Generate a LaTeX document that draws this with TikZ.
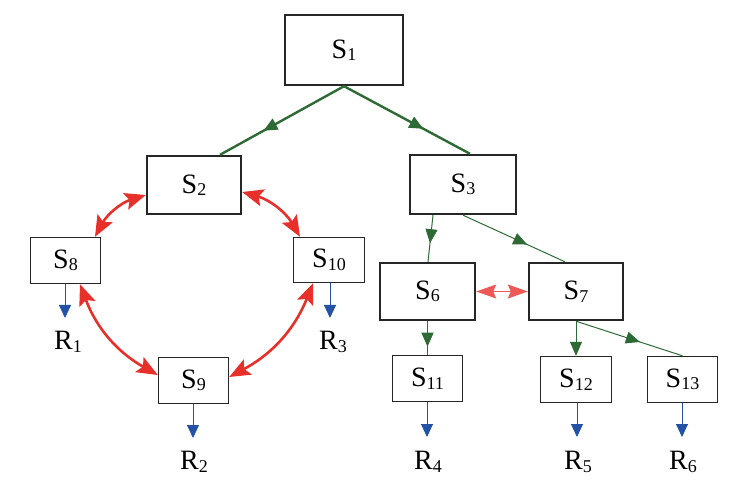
\documentclass[tikz,border=0pt]{standalone}
\usepackage{fontspec}
\setmainfont{Liberation Serif}
\usetikzlibrary{arrows.meta,decorations.markings}
\definecolor{gr}{HTML}{2D6A35}
\definecolor{rd}{HTML}{E8302A}
\definecolor{bl}{HTML}{2452A4}
\newcommand\sx[2]{#1\raisebox{-2.5pt}{\fontsize{18}{18}\selectfont #2}}
\begin{document}
\begin{tikzpicture}[x=1pt,y=-1pt,
  bigbox/.style={draw=black!85,line width=2.4pt,inner sep=0pt,font=\fontsize{28}{30}\selectfont},
  smallbox/.style={draw=black!85,line width=1.4pt,inner sep=0pt,font=\fontsize{28}{30}\selectfont},
  rlabel/.style={inner sep=0pt,font=\fontsize{28}{30}\selectfont},
  midarrow/.style={postaction={decorate},decoration={markings,
     mark=at position #1 with {\arrow{Triangle[length=14pt,width=12pt]}}}},
  thickgreen/.style={draw=gr,line width=2.4pt},
  thingreen/.style={draw=gr,line width=1pt},
  redtip/.tip={Stealth[length=21pt,width=17pt,inset=4pt]},
  redarr/.style={draw=rd,line width=2.6pt,redtip-redtip},
  bluearr/.style={draw=bl,line width=1pt,-{Triangle[length=13pt,width=12pt]}}]
\useasboundingbox (0,0) rectangle (737,481);
% boxes
\node[bigbox,minimum width=118pt,minimum height=70pt] (S1) at (344,50) {\sx{S}{1}};
\node[bigbox,minimum width=94pt,minimum height=58pt] (S2) at (194,185) {\sx{S}{2}};
\node[bigbox,minimum width=106pt,minimum height=59pt] (S3) at (463,184.5) {\sx{S}{3}};
\node[smallbox,minimum width=70pt,minimum height=46pt] (S8) at (65.5,260.5) {\sx{S}{8}};
\node[smallbox,minimum width=71pt,minimum height=45pt] (S10) at (329,260) {\sx{S}{10}};
\node[smallbox,minimum width=70pt,minimum height=46pt] (S9) at (193.5,380.5) {\sx{S}{9}};
\node[bigbox,minimum width=95pt,minimum height=57pt] (S6) at (427.5,291.5) {\sx{S}{6}};
\node[bigbox,minimum width=94pt,minimum height=57pt] (S7) at (576,291.5) {\sx{S}{7}};
\node[smallbox,minimum width=70pt,minimum height=46pt] (S11) at (427.5,378.5) {\sx{S}{11}};
\node[smallbox,minimum width=71pt,minimum height=46pt] (S12) at (576,379.5) {\sx{S}{12}};
\node[smallbox,minimum width=70pt,minimum height=46pt] (S13) at (682.5,379.5) {\sx{S}{13}};
% result labels
\node[rlabel] (R1) at (68,342) {\sx{R}{1}};
\node[rlabel] (R3) at (333,342) {\sx{R}{3}};
\node[rlabel] (R2) at (194,462) {\sx{R}{2}};
\node[rlabel] (R4) at (428,462) {\sx{R}{4}};
\node[rlabel] (R5) at (578,462) {\sx{R}{5}};
\node[rlabel] (R6) at (683,462) {\sx{R}{6}};
% arrow end points
\coordinate (e8) at (65,318);
\coordinate (e10) at (330,318);
\coordinate (e9) at (193,438);
\coordinate (e11) at (427,437);
\coordinate (e12) at (577,437);
\coordinate (e13) at (682,437);
% green tree connectors
\draw[thickgreen,midarrow=0.65] (S1.south) -- ([xshift=26pt]S2.north);
\draw[thickgreen,midarrow=0.63] (S1.south) -- ([xshift=7pt]S3.north);
\draw[thingreen,midarrow=0.6] ([xshift=-30pt]S3.south) -- ([xshift=0.5pt]S6.north);
\draw[thingreen,midarrow=0.63] (S3.south) -- ([xshift=-11pt]S7.north);
\draw[thingreen,midarrow=0.76] (S6.south) -- (S11.north);
\draw[thingreen,-{Triangle[length=14pt,width=12pt]}] (S7.south) -- (S12.north);
\draw[thingreen,midarrow=0.6] (S7.south) -- (S13.north);
% red interactions
\draw[redarr] ([yshift=-10pt]S2.west) to[bend right=22] ([xshift=29.5pt]S8.north);
\draw[redarr] ([yshift=-7pt]S2.east) to[bend left=22] ([xshift=-29pt]S10.north);
\draw[redarr] ([xshift=14.5pt]S8.south) to[bend right=20] ([yshift=5.5pt]S9.west);
\draw[redarr] ([xshift=-16pt]S10.south) to[bend left=20] ([yshift=3.5pt]S9.east);
\draw[draw=rd!80,line width=1.2pt,{Stealth[length=20pt,width=14pt,inset=3pt]}-{Stealth[length=20pt,width=14pt,inset=3pt]}] (S6.east) -- (S7.west);
% blue outputs
\draw[bluearr] (S8.south -| e8) -- (e8);
\draw[bluearr] (S10.south -| e10) -- (e10);
\draw[bluearr] (S9.south -| e9) -- (e9);
\draw[bluearr] (S11.south -| e11) -- (e11);
\draw[bluearr] (S12.south -| e12) -- (e12);
\draw[bluearr] (S13.south -| e13) -- (e13);
\end{tikzpicture}
\end{document}
